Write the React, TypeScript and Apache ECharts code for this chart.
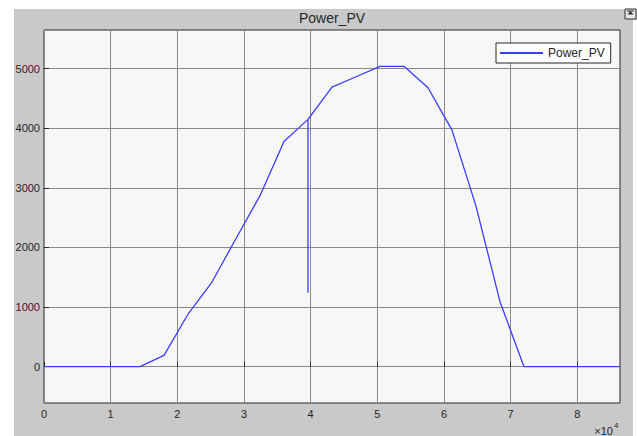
import React, { useEffect, useRef } from "react";
import * as echarts from "echarts";

// Time in seconds (hourly samples, with the momentary dip at 11 h)
const timeSec = [
  0, 3600, 7200, 10800, 14400, 18000, 21600, 25200, 28800, 32400, 36000,
  39600, 39600, 39600, 43200, 46800, 50400, 54000, 57600, 61200, 64800,
  68400, 72000, 75600, 79200, 82800, 86400,
];
// PV power values
const powerPV = [
  0, 0, 0, 0, 0, 190, 880, 1420, 2150, 2870, 3780,
  4150, 1240, 4150, 4690, 4865, 5040, 5040, 4680, 3970, 2695,
  1090, 0, 0, 0, 0, 0,
];
const xTicks = [0, 10000, 20000, 30000, 40000, 50000, 60000, 70000, 80000];
const yTicks = [0, 1000, 2000, 3000, 4000, 5000];
const seriesName = "Power_PV";

const FONT = "'Liberation Sans', Arial, Helvetica, sans-serif";
const DARK = "#262626";
const GRIDC = "#8a8a8a";
const BLUE = "#3c3cff";

export default function App() {
  const ref = useRef<HTMLDivElement>(null);
  useEffect(() => {
    if (!ref.current) return;
    const chart = echarts.init(ref.current, undefined, { renderer: "svg" });
    const data = timeSec.map((t, i) => [t, powerPV[i]]);
    chart.setOption({
      animation: false,
      backgroundColor: "#c9c9c9",
      textStyle: { fontFamily: FONT },
      grid: {
        left: 44,
        top: 30,
        width: 576,
        height: 373,
        show: true,
        backgroundColor: "#f7f7f7",
        borderColor: DARK,
        borderWidth: 1,
        containLabel: false,
      },
      legend: {
        data: [{ name: seriesName, icon: "rect" }],
        left: 496,
        top: 43,
        width: 112,
        padding: [4, 6, 4, 4],
        itemWidth: 43,
        itemHeight: 2,
        itemGap: 5,
        backgroundColor: "#ffffff",
        borderColor: DARK,
        borderWidth: 1,
        borderRadius: 0,
        itemStyle: { color: BLUE, borderWidth: 0 },
        textStyle: { fontSize: 12, color: DARK, fontFamily: FONT },
      },
      xAxis: {
        type: "value",
        min: 0,
        max: 86400,
        axisLine: { show: false },
        axisTick: {
          show: true,
          inside: true,
          length: 5,
          customValues: xTicks,
          lineStyle: { color: DARK },
        },
        axisLabel: {
          customValues: xTicks,
          formatter: (v: number) => String(v / 10000),
          fontSize: 11,
          color: DARK,
          margin: 5,
          fontFamily: FONT,
        },
        splitLine: { show: true, lineStyle: { color: GRIDC, width: 1 } },
      },
      yAxis: {
        type: "value",
        min: -610,
        max: 5650,
        axisLine: { show: false },
        axisTick: {
          show: true,
          inside: true,
          length: 5,
          customValues: yTicks,
          lineStyle: { color: DARK },
        },
        axisLabel: {
          customValues: yTicks,
          formatter: (v: number) => String(v),
          fontSize: 11,
          color: DARK,
          margin: 4,
          fontFamily: FONT,
        },
        splitLine: { show: true, lineStyle: { color: GRIDC, width: 1 } },
      },
      series: [
        {
          name: seriesName,
          type: "line",
          data,
          symbol: "none",
          showSymbol: false,
          lineStyle: { color: BLUE, width: 1.3 },
          itemStyle: { color: BLUE },
          z: 3,
        },
      ],
      graphic: [
        { type: "rect", shape: { x: 0, y: 0, width: 14, height: 436 }, style: { fill: "#ffffff" } },
        { type: "rect", shape: { x: 0, y: 0, width: 637, height: 9 }, style: { fill: "#ffffff" } },
        { type: "rect", shape: { x: 633, y: 20, width: 4, height: 416 }, style: { fill: "#ffffff" } },
        {
          type: "text",
          x: 332,
          y: 18,
          style: {
            text: "Power_PV",
            fill: DARK,
            fontSize: 14,
            fontFamily: FONT,
            textAlign: "center",
            textVerticalAlign: "middle",
          },
        },
        {
          type: "text",
          x: 613,
          y: 431,
          style: {
            text: "×10",
            fill: DARK,
            fontSize: 11,
            fontFamily: FONT,
            textAlign: "right",
            textVerticalAlign: "middle",
          },
        },
        {
          type: "text",
          x: 614,
          y: 425,
          style: {
            text: "4",
            fill: DARK,
            fontSize: 8,
            fontFamily: FONT,
            textAlign: "left",
            textVerticalAlign: "middle",
          },
        },
        {
          type: "rect",
          shape: { x: 625, y: 9, width: 11, height: 10 },
          style: { fill: "#e6e6e6", stroke: "#303030", lineWidth: 1 },
        },
        {
          type: "polygon",
          shape: { points: [[630.5, 11], [627.5, 14.5], [633.5, 14.5]] },
          style: { fill: "#303030" },
        },
        {
          type: "line",
          shape: { x1: 627, y1: 11, x2: 634, y2: 11 },
          style: { stroke: "#303030", lineWidth: 1 },
        },
      ],
    });
    return () => chart.dispose();
  }, []);
  return (
    <div
      ref={ref}
      style={{ position: "fixed", left: 0, top: 0, width: 637, height: 436, background: "#ffffff" }}
    />
  );
}
